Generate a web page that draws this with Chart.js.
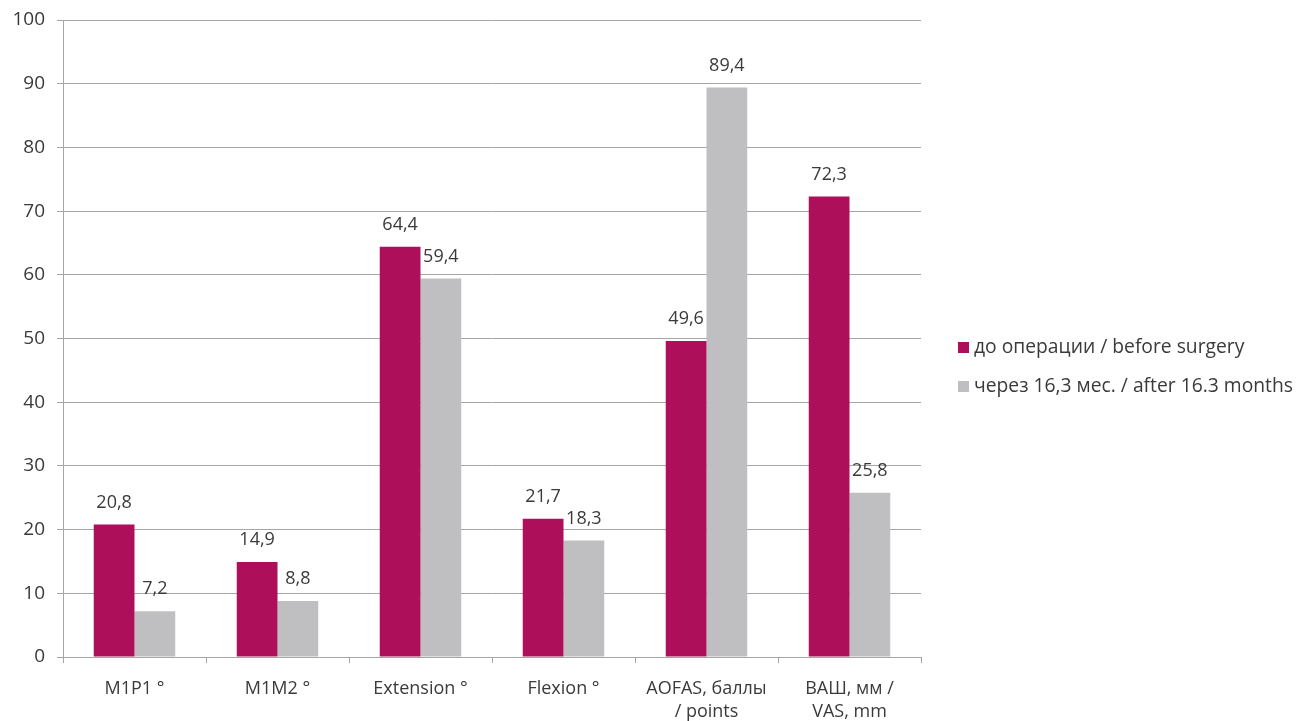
<!DOCTYPE html>
<html>
<head>
<meta charset="utf-8">
<script src="https://cdn.jsdelivr.net/npm/chart.js@4"></script>
<style>
  html, body { margin: 0; padding: 0; background: #fff; }
  #wrap { width: 1297px; height: 721px; }
</style>
</head>
<body>
<div id="wrap"><canvas id="chart"></canvas></div>
<script>
const categories = [
  'M1P1 °',
  'M1M2 °',
  'Extension °',
  'Flexion °',
  ['AOFAS, баллы', '/ points'],
  ['ВАШ, мм /', 'VAS, mm']
];
const beforeLabel = 'до операции / before surgery';
const afterLabel = 'через 16,3 мес. / after 16.3 months';
const beforeValues = [20.8, 14.9, 64.4, 21.7, 49.6, 72.3];
const afterValues = [7.2, 8.8, 59.4, 18.3, 89.4, 25.8];
const yTicks = [0, 10, 20, 30, 40, 50, 60, 70, 80, 90, 100];

const FONT = "'Open Sans', sans-serif";
const TEXT = '#3a3a3a';
const AXIS = '#a6a6a6';

// value labels above each bar
const barLabels = {
  id: 'barLabels',
  afterDatasetsDraw(chart) {
    const ctx = chart.ctx;
    ctx.save();
    ctx.font = '18px ' + FONT;
    ctx.fillStyle = TEXT;
    ctx.textAlign = 'center';
    ctx.textBaseline = 'middle';
    chart.data.datasets.forEach((ds, i) => {
      chart.getDatasetMeta(i).data.forEach((bar, j) => {
        const txt = ds.data[j].toFixed(1).replace('.', ',');
        ctx.fillText(txt, bar.x, bar.y - 22);
      });
    });
    ctx.restore();
  }
};

// legend on the right, drawn by hand
const sideLegend = {
  id: 'sideLegend',
  afterDraw(chart) {
    const ctx = chart.ctx;
    ctx.save();
    ctx.font = '19.3px ' + FONT;
    ctx.textBaseline = 'middle';
    ctx.textAlign = 'left';
    chart.data.datasets.forEach((ds, i) => {
      const y = 348 + i * 39;
      ctx.fillStyle = ds.backgroundColor;
      ctx.fillRect(958, y - 6, 11, 11);
      ctx.fillStyle = TEXT;
      ctx.fillText(ds.label, 974, y);
    });
    ctx.restore();
  }
};

new Chart(document.getElementById('chart'), {
  type: 'bar',
  data: {
    labels: categories,
    datasets: [{
      label: beforeLabel,
      data: beforeValues,
      backgroundColor: '#ae0f5b',
      categoryPercentage: 0.57,
      barPercentage: 1
    }, {
      label: afterLabel,
      data: afterValues,
      backgroundColor: '#bfbfc1',
      categoryPercentage: 0.57,
      barPercentage: 1
    }]
  },
  options: {
    responsive: true,
    maintainAspectRatio: false,
    animation: false,
    layout: {
      padding: { top: 20, right: 376, left: 0, bottom: 0 }
    },
    plugins: {
      legend: { display: false },
      tooltip: { enabled: false }
    },
    scales: {
      x: {
        afterFit: (s) => { s.height = 64; },
        grid: {
          offset: true,
          drawOnChartArea: false,
          drawTicks: true,
          tickLength: 6,
          color: AXIS
        },
        border: { color: AXIS },
        ticks: {
          color: TEXT,
          font: { family: FONT, size: 18, lineHeight: 1.25 },
          padding: 15,
          maxRotation: 0,
          autoSkip: false
        }
      },
      y: {
        min: 0,
        max: 100,
        afterFit: (s) => { s.width = 63; s.paddingTop = 0; s.paddingBottom = 0; },
        afterBuildTicks: (s) => { s.ticks = yTicks.map(v => ({ value: v })); },
        grid: {
          color: AXIS,
          tickLength: 6
        },
        border: { color: AXIS },
        ticks: {
          color: TEXT,
          font: { family: FONT, size: 19 },
          padding: 12
        }
      }
    }
  },
  plugins: [barLabels, sideLegend]
});
</script>
</body>
</html>
